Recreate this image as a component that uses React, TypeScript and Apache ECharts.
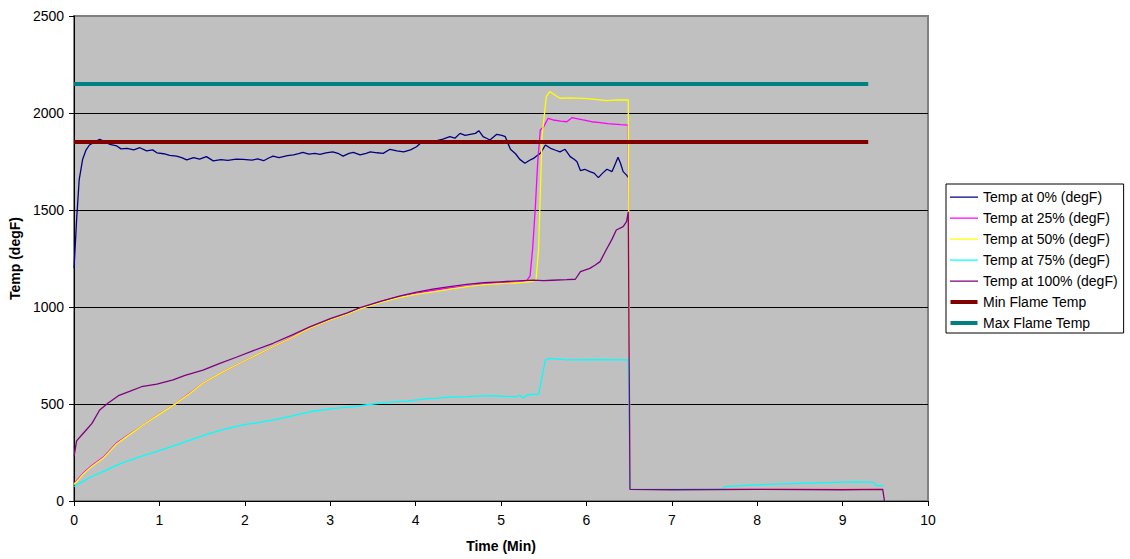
import React, { useEffect, useRef } from "react";
import * as echarts from "echarts";

// Time (min) and temperature (degF)
const t0 = [0, 0.03, 0.06, 0.1, 0.14, 0.18, 0.24, 0.3, 0.35, 0.42, 0.5, 0.55, 0.62, 0.7, 0.77, 0.85, 0.92, 0.97, 1.05, 1.12, 1.2, 1.26, 1.32, 1.4, 1.47, 1.55, 1.63, 1.72, 1.8, 1.9, 1.98, 2.08, 2.15, 2.22, 2.28, 2.33, 2.4, 2.5, 2.57, 2.63, 2.68, 2.75, 2.82, 2.88, 2.95, 3.03, 3.1, 3.15, 3.22, 3.27, 3.35, 3.42, 3.47, 3.55, 3.62, 3.7, 3.78, 3.86, 3.94, 4.01, 4.09, 4.17, 4.25, 4.32, 4.4, 4.46, 4.52, 4.58, 4.64, 4.7, 4.74, 4.79, 4.83, 4.87, 4.95, 5.01, 5.05, 5.11, 5.17, 5.22, 5.28, 5.33, 5.38, 5.42, 5.46, 5.52, 5.58, 5.64, 5.69, 5.75, 5.81, 5.86, 5.89, 5.93, 5.98, 6.04, 6.09, 6.14, 6.19, 6.24, 6.3, 6.34, 6.37, 6.4, 6.43, 6.47, 6.49];
const v0 = [1200, 1450, 1655, 1760, 1809, 1835, 1850, 1864, 1855, 1838, 1830, 1815, 1818, 1810, 1821, 1805, 1810, 1795, 1790, 1782, 1778, 1770, 1758, 1770, 1762, 1775, 1753, 1760, 1756, 1762, 1761, 1757, 1763, 1754, 1768, 1778, 1770, 1780, 1784, 1790, 1797, 1788, 1792, 1787, 1795, 1800, 1790, 1778, 1792, 1797, 1784, 1792, 1800, 1795, 1792, 1813, 1805, 1800, 1810, 1826, 1857, 1850, 1857, 1865, 1878, 1870, 1895, 1885, 1890, 1895, 1909, 1878, 1870, 1861, 1890, 1885, 1878, 1813, 1790, 1761, 1741, 1755, 1766, 1780, 1792, 1835, 1818, 1808, 1800, 1813, 1775, 1760, 1749, 1703, 1710, 1698, 1690, 1667, 1690, 1710, 1698, 1740, 1772, 1740, 1698, 1680, 1668];

const t25 = [0, 0.1, 0.2, 0.34, 0.5, 0.65, 0.81, 1.0, 1.18, 1.35, 1.51, 1.7, 1.9, 2.1, 2.33, 2.55, 2.76, 3.0, 3.2, 3.35, 3.6, 3.82, 4.0, 4.2, 4.4, 4.6, 4.8, 5.0, 5.2, 5.3, 5.34, 5.37, 5.4, 5.43, 5.46, 5.5, 5.55, 5.61, 5.7, 5.77, 5.83, 5.9, 5.96, 6.06, 6.16, 6.25, 6.32, 6.4, 6.49, 6.51, 7.5, 8.5, 9.47];
const v25 = [90, 140, 180, 225, 300, 345, 392, 450, 498, 555, 607, 655, 701, 745, 795, 845, 890, 935, 965, 993, 1030, 1055, 1070, 1085, 1098, 1108, 1118, 1125, 1130, 1135, 1160, 1300, 1500, 1750, 1912, 1929, 1972, 1964, 1958, 1955, 1976, 1970, 1964, 1955, 1950, 1945, 1943, 1940, 1938, 60, 61, 60, 61];

const t50 = [0, 0.1, 0.2, 0.34, 0.5, 0.65, 0.81, 1.0, 1.18, 1.35, 1.51, 1.7, 1.9, 2.1, 2.33, 2.55, 2.76, 3.0, 3.2, 3.35, 3.6, 3.82, 4.0, 4.2, 4.4, 4.6, 4.8, 5.0, 5.2, 5.38, 5.41, 5.44, 5.48, 5.53, 5.57, 5.63, 5.69, 5.8, 5.96, 6.1, 6.24, 6.35, 6.49, 6.51, 7.5, 8.5, 9.47];
const v50 = [85, 135, 175, 220, 295, 342, 392, 448, 498, 553, 607, 655, 701, 745, 795, 843, 890, 933, 963, 990, 1025, 1050, 1065, 1078, 1092, 1105, 1115, 1120, 1125, 1132, 1140, 1300, 1878, 2084, 2110, 2093, 2076, 2078, 2075, 2070, 2064, 2068, 2067, 60, 61, 60, 61];

const t75 = [0, 0.1, 0.2, 0.34, 0.5, 0.65, 0.81, 1.0, 1.2, 1.4, 1.59, 1.78, 1.98, 2.17, 2.37, 2.57, 2.76, 3.0, 3.2, 3.35, 3.5, 3.7, 3.9, 4.11, 4.25, 4.4, 4.6, 4.87, 5.0, 5.18, 5.22, 5.26, 5.3, 5.35, 5.44, 5.48, 5.52, 5.57, 5.77, 6.1, 6.49, 6.51, 7.6, 7.62, 7.92, 8.2, 8.5, 8.8, 9.16, 9.36, 9.4, 9.48];
const v75 = [75, 100, 125, 151, 185, 210, 234, 260, 289, 320, 349, 372, 392, 405, 421, 440, 460, 475, 484, 491, 500, 510, 515, 526, 530, 535, 538, 543, 540, 538, 545, 529, 545, 550, 550, 640, 727, 735, 727, 728, 727, 60, 62, 74, 82, 87, 91, 95, 99, 96, 79, 79];

const t100 = [0, 0.03, 0.09, 0.15, 0.21, 0.3, 0.4, 0.52, 0.65, 0.79, 0.97, 1.16, 1.3, 1.51, 1.7, 1.9, 2.1, 2.33, 2.55, 2.76, 3.0, 3.2, 3.35, 3.6, 3.82, 4.0, 4.2, 4.4, 4.6, 4.8, 4.99, 5.2, 5.38, 5.5, 5.6, 5.77, 5.87, 5.93, 6.04, 6.1, 6.16, 6.22, 6.3, 6.35, 6.43, 6.47, 6.49, 6.51, 7.0, 8.0, 9.0, 9.47, 9.49];
const v100 = [230, 310, 340, 370, 400, 469, 505, 543, 565, 589, 603, 624, 648, 675, 708, 741, 775, 813, 855, 898, 940, 970, 997, 1030, 1057, 1075, 1092, 1105, 1117, 1125, 1130, 1135, 1139, 1136, 1138, 1141, 1143, 1182, 1199, 1215, 1234, 1285, 1350, 1397, 1414, 1440, 1491, 60, 58, 60, 58, 60, 0];

const flameT = [0, 9.3];
const minFlame = [1850, 1850];
const maxFlame = [2150, 2150];

const seriesNames = [
  "Temp at 0% (degF)",
  "Temp at 25% (degF)",
  "Temp at 50% (degF)",
  "Temp at 75% (degF)",
  "Temp at 100% (degF)",
  "Min Flame Temp",
  "Max Flame Temp",
];
const seriesColors = ["#000080", "#FF00FF", "#FFFF00", "#00FFFF", "#800080", "#800000", "#008080"];

const zip = (t: number[], v: number[]) => t.map((x, i) => [x, v[i]]);

const FONT = "'Liberation Sans', Arial, sans-serif";

// legend icons: a horizontal bar inside a 28x14 box (corner dots fix the box size)
const thinIcon = "path://M0,0h0.01v0.01h-0.01Z M0,6.4h28v1.3h-28Z M27.99,13.99h0.01v0.01h-0.01Z";
const thickIcon = "path://M0,0h0.01v0.01h-0.01Z M0.5,5h27v4h-27Z M27.99,13.99h0.01v0.01h-0.01Z";

export default function App() {
  const ref = useRef<HTMLDivElement>(null);
  useEffect(() => {
    if (!ref.current) return;
    const chart = echarts.init(ref.current, undefined, { renderer: "svg" });
    const datasets = [
      zip(t0, v0),
      zip(t25, v25),
      zip(t50, v50),
      zip(t75, v75),
      zip(t100, v100),
      zip(flameT, minFlame),
      zip(flameT, maxFlame),
    ];
    const series = datasets.map((d, i) => ({
      name: seriesNames[i],
      type: "line",
      data: d,
      symbol: "none",
      showSymbol: false,
      color: seriesColors[i],
      lineStyle: { color: seriesColors[i], width: i >= 5 ? 4 : 1.3 },
    }));
    chart.setOption({
      animation: false,
      backgroundColor: "#ffffff",
      textStyle: { fontFamily: FONT },
      grid: {
        left: 74,
        top: 16,
        width: 854,
        height: 485,
        show: true,
        backgroundColor: "#C0C0C0",
        borderColor: "#808080",
        borderWidth: 2,
      },
      legend: {
        orient: "vertical",
        left: 946,
        top: 184,
        padding: [6, 6, 3, 4],
        itemWidth: 28,
        itemHeight: 14,
        itemGap: 7,
        backgroundColor: "#ffffff",
        borderColor: "#000000",
        borderWidth: 1,
        borderRadius: 0,
        textStyle: { fontFamily: FONT, fontSize: 14, color: "#000" },
        data: seriesNames.map((n, i) => ({
          name: n,
          icon: i >= 5 ? thickIcon : thinIcon,
          itemStyle: { color: seriesColors[i], borderWidth: 0 },
        })),
      },
      xAxis: {
        type: "value",
        min: 0,
        max: 10,
        interval: 1,
        name: "Time (Min)",
        nameLocation: "middle",
        nameGap: 38,
        nameTextStyle: { fontFamily: FONT, fontSize: 14, fontWeight: "bold", color: "#000" },
        axisLine: { show: true, lineStyle: { color: "#000", width: 1 } },
        axisTick: { show: true, length: 5, lineStyle: { color: "#000" } },
        axisLabel: { margin: 12, fontFamily: FONT, fontSize: 14, color: "#000", formatter: (v: number) => String(v) },
        splitLine: { show: false },
      },
      yAxis: {
        type: "value",
        min: 0,
        max: 2500,
        interval: 500,
        name: "Temp (degF)",
        nameLocation: "middle",
        nameGap: 47,
        nameRotate: 90,
        nameTextStyle: { fontFamily: FONT, fontSize: 14, fontWeight: "bold", color: "#000" },
        axisLine: { show: true, lineStyle: { color: "#000", width: 1 } },
        axisTick: { show: true, length: 5, lineStyle: { color: "#000" } },
        axisLabel: { margin: 10, fontFamily: FONT, fontSize: 14, color: "#000", formatter: (v: number) => String(v) },
        splitLine: { show: true, showMaxLine: false, lineStyle: { color: "#000", width: 1 } },
      },
      series,
    });
    return () => chart.dispose();
  }, []);
  return (
    <div
      ref={ref}
      style={{ position: "fixed", left: 0, top: 0, width: 1130, height: 559, background: "#fff" }}
    />
  );
}
